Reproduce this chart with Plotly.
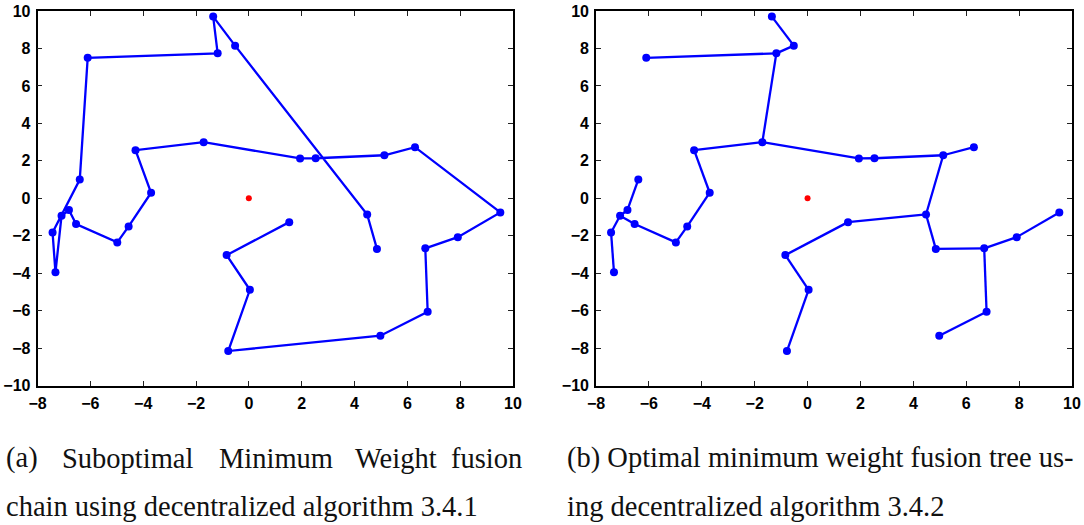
import plotly.graph_objects as go

W, H = 1084, 525

# Sensor node coordinates (shared by both panels)
node_x = [-1.35, -0.52, -1.18, -6.10, -6.40, -4.29, -1.71, -3.70, 1.94, 2.53,
          5.13, 6.29, -6.81, -7.09, -6.54, -7.43, -7.32, -4.98, -4.55, -0.84,
          0.04, -0.78, 1.53, 4.48, 4.85, 6.68, 7.91, 9.52, 6.77, 4.98]
node_y = [9.70, 8.15, 7.74, 7.50, 1.00, 2.57, 3.00, 0.30, 2.13, 2.14,
          2.30, 2.73, -0.62, -0.93, -1.37, -1.82, -3.95, -2.35, -1.50, -3.03,
          -4.88, -8.15, -1.27, -0.86, -2.70, -2.67, -2.07, -0.75, -6.05, -7.33]

# Fusion centre
sink_x = [0.0]
sink_y = [0.0]

# (a) suboptimal chain: visiting order of nodes
chain_order = [24, 23, 1, 0, 2, 3, 4, 15, 16, 13, 12, 14, 17, 18, 7, 5, 6,
               8, 9, 10, 11, 27, 26, 25, 28, 29, 21, 20, 19, 22]

# (b) optimal tree: edges between nodes
tree_edges = [(3, 2), (0, 1), (1, 2), (2, 6), (6, 5), (6, 8), (8, 9), (9, 10),
              (10, 11), (10, 23), (23, 22), (22, 19), (19, 20), (20, 21),
              (23, 24), (24, 25), (25, 26), (26, 27), (25, 28), (28, 29),
              (5, 7), (7, 18), (18, 17), (17, 14), (14, 13), (13, 15),
              (15, 16), (13, 12), (12, 4)]

x_ticks = [-8, -6, -4, -2, 0, 2, 4, 6, 8, 10]
y_ticks = [-10, -8, -6, -4, -2, 0, 2, 4, 6, 8, 10]

BLUE = "#0000ff"
RED = "#ff0000"

fig = go.Figure()

# Panel (a)
fig.add_trace(go.Scatter(
    x=[node_x[i] for i in chain_order], y=[node_y[i] for i in chain_order],
    mode="lines+markers", line=dict(color=BLUE, width=2.3),
    marker=dict(color=BLUE, size=8), xaxis="x", yaxis="y", showlegend=False))
fig.add_trace(go.Scatter(x=sink_x, y=sink_y, mode="markers",
                         marker=dict(color=RED, size=6),
                         xaxis="x", yaxis="y", showlegend=False))

# Panel (b)
tx, ty = [], []
for a, b in tree_edges:
    tx += [node_x[a], node_x[b], None]
    ty += [node_y[a], node_y[b], None]
fig.add_trace(go.Scatter(x=tx, y=ty, mode="lines",
                         line=dict(color=BLUE, width=2.3),
                         xaxis="x2", yaxis="y2", showlegend=False))
fig.add_trace(go.Scatter(x=node_x, y=node_y, mode="markers",
                         marker=dict(color=BLUE, size=8),
                         xaxis="x2", yaxis="y2", showlegend=False))
fig.add_trace(go.Scatter(x=sink_x, y=sink_y, mode="markers",
                         marker=dict(color=RED, size=6),
                         xaxis="x2", yaxis="y2", showlegend=False))

tickfont = dict(family="Liberation Sans, Arial, sans-serif", size=16,
                color="black", weight=700)
axis_common = dict(showgrid=False, zeroline=False, showline=True,
                   linecolor="black", linewidth=1.6, mirror="ticks",
                   ticks="inside", ticklen=5, tickwidth=1, tickcolor="#222",
                   tickfont=tickfont, automargin=False, ticklabelstandoff=2)

ydom = [1 - 385.7 / H, 1 - 11 / H]
fig.update_layout(
    template="none",
    width=W, height=H,
    margin=dict(l=0, r=0, t=0, b=0, pad=0),
    paper_bgcolor="white", plot_bgcolor="white",
    xaxis=dict(domain=[37.5 / W, 513 / W], range=[-8, 10], tickvals=x_ticks,
               anchor="y", **axis_common),
    yaxis=dict(domain=ydom, range=[-10, 10], tickvals=y_ticks,
               anchor="x", **axis_common),
    xaxis2=dict(domain=[596 / W, 1072 / W], range=[-8, 10], tickvals=x_ticks,
                anchor="y2", **axis_common),
    yaxis2=dict(domain=ydom, range=[-10, 10], tickvals=y_ticks,
                anchor="x2", **axis_common),
)

cap_font = dict(family="Liberation Serif, Times New Roman, serif", size=28.5,
                color="#111")

def cap(text, xpx, ypx):
    fig.add_annotation(text=text, x=xpx / W, y=1 - ypx / H, xref="paper",
                       yref="paper", xanchor="left", yanchor="middle",
                       showarrow=False, font=cap_font, borderpad=0)

# Caption (a), first line justified word by word
for word, xpx in [("(a)", 5), ("Suboptimal", 61), ("Minimum", 218),
                  ("Weight", 354), ("fusion", 450)]:
    cap(word, xpx, 458)
cap("chain using decentralized algorithm 3.4.1", 5, 506)
cap("(b) Optimal minimum weight fusion tree us-", 566, 458)
cap("ing decentralized algorithm 3.4.2", 566, 506)

fig.write_html("out.html")
